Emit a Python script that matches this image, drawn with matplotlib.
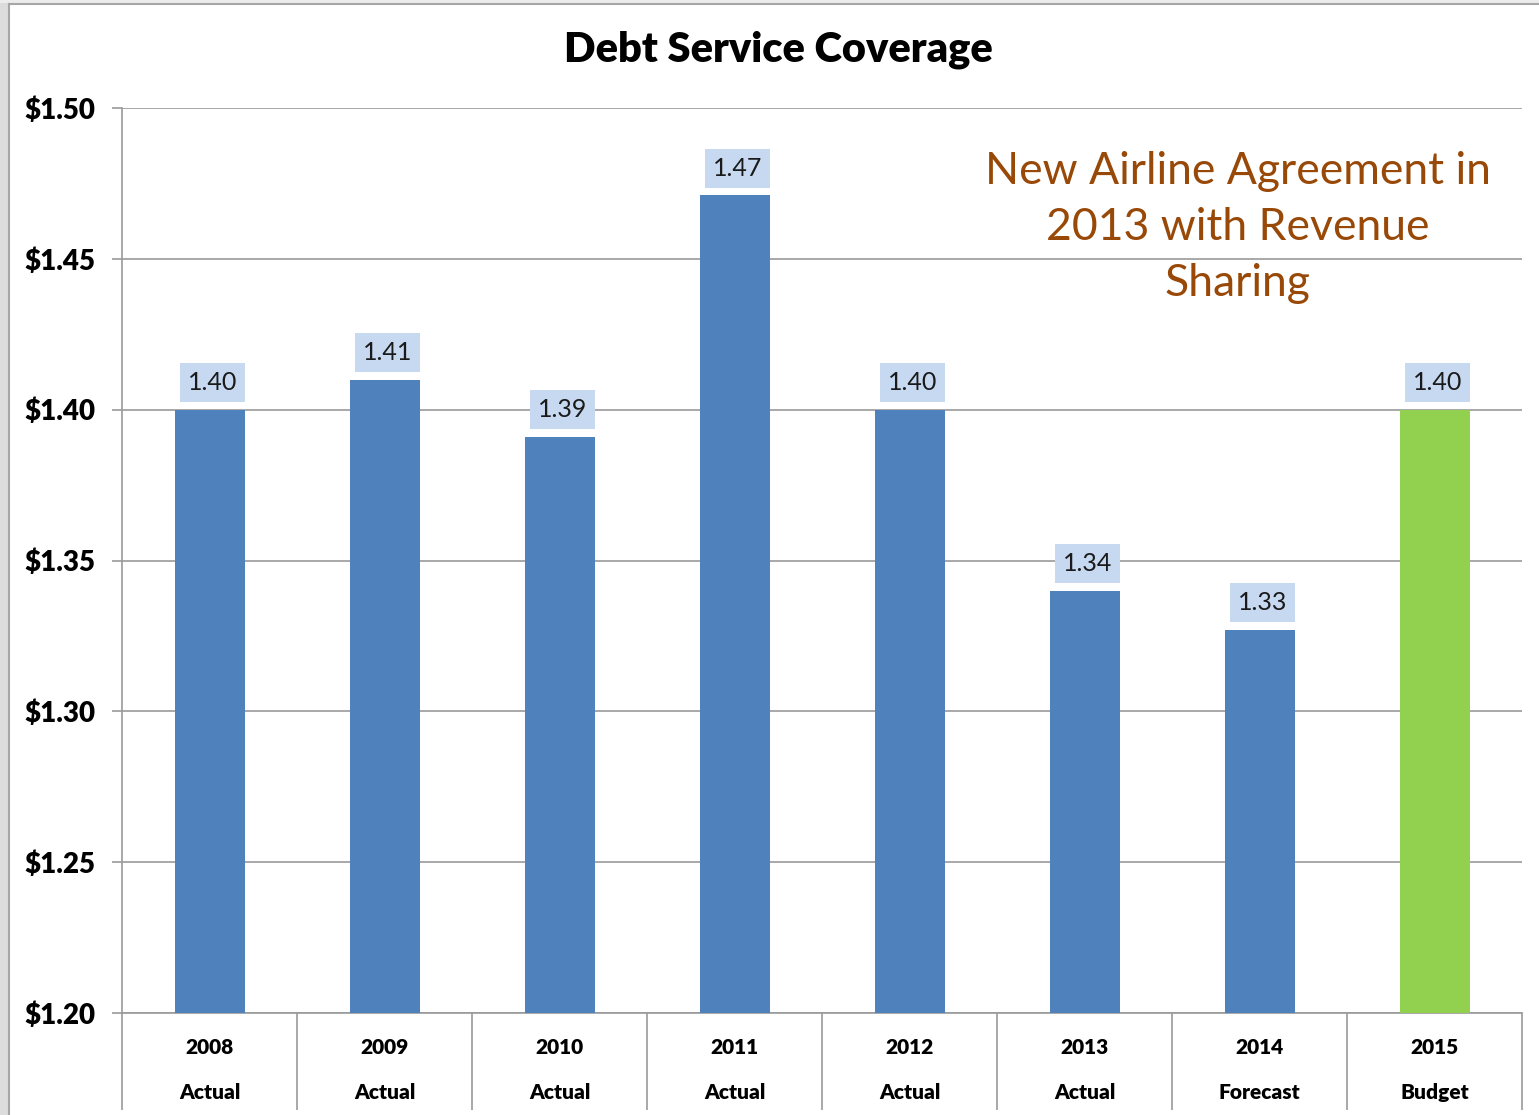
import matplotlib.pyplot as plt
from matplotlib.patches import Rectangle
from matplotlib.lines import Line2D
from matplotlib.ticker import FixedLocator, FuncFormatter

plt.rcParams['font.family'] = ['Lato', 'DejaVu Sans']

# Debt service coverage ratio by year
years = ['2008', '2009', '2010', '2011', '2012', '2013', '2014', '2015']
kinds = ['Actual', 'Actual', 'Actual', 'Actual', 'Actual', 'Actual', 'Forecast', 'Budget']
coverage = [1.40, 1.41, 1.391, 1.471, 1.40, 1.34, 1.327, 1.40]
bar_colors = ['#4f81bd'] * 7 + ['#92d050']
y_ticks = [1.20, 1.25, 1.30, 1.35, 1.40, 1.45, 1.50]

fig = plt.figure(figsize=(15.39, 11.15), dpi=100)
ax = fig.add_axes([122 / 1539, 1 - 1013 / 1115, 1400 / 1539, 905 / 1115])

# window frame around the chart
fig.patches.append(Rectangle((0, 0), 8 / 1539, 1, transform=fig.transFigure,
                             fc='#dcdcdc', ec='none', zorder=0))
fig.patches.append(Rectangle((0, 1 - 3 / 1115), 1, 3 / 1115, transform=fig.transFigure,
                             fc='#ececec', ec='none', zorder=0))
fig.lines.append(Line2D([8.5 / 1539, 8.5 / 1539], [0, 1 - 3.5 / 1115],
                        transform=fig.transFigure, color='#a6a6a6', lw=1.5))
fig.lines.append(Line2D([8.5 / 1539, 1], [1 - 3.5 / 1115, 1 - 3.5 / 1115],
                        transform=fig.transFigure, color='#a6a6a6', lw=1.5))

x = list(range(len(years)))
bars = ax.bar(x, coverage, width=0.4, color=bar_colors, zorder=3)

ax.set_ylim(1.20, 1.50)
ax.set_xlim(-0.5, len(years) - 0.5)

ax.yaxis.set_major_locator(FixedLocator(y_ticks))
ax.yaxis.set_major_formatter(FuncFormatter(lambda v, p: f'${v:.2f}'))
ax.grid(axis='y', color='#9a9a9a', lw=1.2, zorder=0)
ax.tick_params(axis='y', length=7, width=1.2, color='#9a9a9a', pad=12,
               labelsize=20)
for lbl in ax.get_yticklabels():
    lbl.set_fontweight('heavy')

# category separators drawn as long major ticks, labels on minor ticks
ax.set_xticks([i - 0.5 for i in range(len(years) + 1)])
ax.set_xticklabels([])
ax.set_xticks(x, minor=True)
ax.set_xticklabels([f'{y}\n{k}' for y, k in zip(years, kinds)], minor=True,
                   fontsize=15, fontweight='heavy', linespacing=2.65)
ax.tick_params(axis='x', which='major', length=70, width=1.2, color='#9a9a9a')
ax.tick_params(axis='x', which='minor', length=0, pad=18)

for side in ['top', 'right']:
    ax.spines[side].set_visible(False)
for side in ['left', 'bottom']:
    ax.spines[side].set_color('#9a9a9a')
    ax.spines[side].set_linewidth(1.2)

# value labels in shaded boxes above each bar
for b, v in zip(bars, coverage):
    ax.annotate(f'{v:.2f}', (b.get_x() + b.get_width() / 2, v),
                xytext=(2, 19.5), textcoords='offset points',
                ha='center', va='center', fontsize=18, color='#1a1a1a',
                bbox=dict(boxstyle='square,pad=0.32', fc='#c6d9f1', ec='none'),
                zorder=4)

ax.text(0.797, 0.952, 'New Airline Agreement in\n2013 with Revenue\nSharing',
        transform=ax.transAxes, ha='center', va='top', fontsize=32,
        color='#984807', linespacing=1.45)

fig.text(778 / 1539, 1 - 50 / 1115, 'Debt Service Coverage', ha='center',
         va='center', fontsize=30, fontweight='heavy')

fig.savefig('out.png', dpi=100)
